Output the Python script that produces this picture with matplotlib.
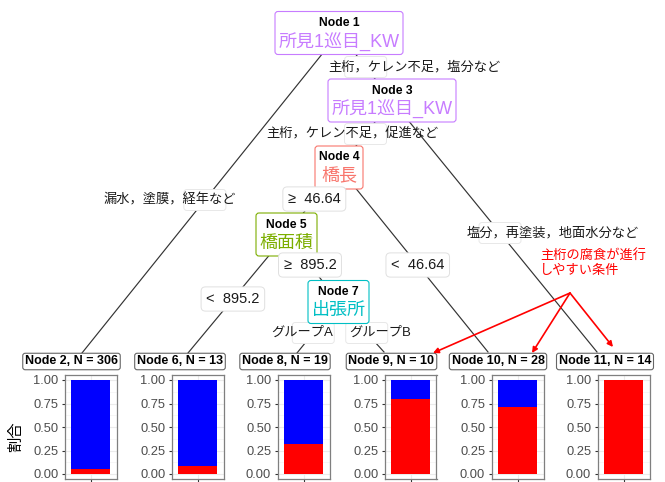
import matplotlib
matplotlib.use("Agg")
import matplotlib.pyplot as plt
from matplotlib.patches import FancyBboxPatch

plt.rcParams['font.family'] = ['Liberation Sans', 'Noto Sans CJK JP']

W, H = 665, 482

# inner nodes: id, variable, colour
inner_nodes = [1, 3, 4, 5, 7]
inner_vars = ['所見1巡目_KW', '所見1巡目_KW', '橋長', '橋面積', '出張所']
inner_colors = ['#C77CFF', '#C77CFF', '#F8766D', '#7CAE00', '#00BFC4']

# terminal nodes
term_nodes = [2, 6, 8, 9, 10, 11]
term_n = [306, 13, 19, 10, 28, 14]
share_red = [0.05, 0.08, 0.32, 0.80, 0.71, 1.00]
share_blue = [0.95, 0.92, 0.68, 0.20, 0.29, 0.00]

# edges: parent -> child with split label
edges = [(1, 2), (1, 3), (3, 4), (3, 11), (4, 5), (4, 10), (5, 6), (5, 7), (7, 8), (7, 9)]
edge_labels = ['漏水，塗膜，経年など', '主桁，ケレン不足，塩分など', '主桁，ケレン不足，促進など',
               '塩分，再塗装，地面水分など', '≥  46.64', '<  46.64', '<  895.2', '≥  895.2',
               'グループA', 'グループB']

note_text = '主桁の腐食が進行\nしやすい条件'
note_targets = [9, 10, 11]

# ---- layout (pixels, origin top-left) ----
node_xy = {1: (339, 33), 3: (392, 100.5), 4: (339, 167.5), 5: (286.5, 234.5), 7: (338.5, 302),
           2: (82, 353), 6: (188, 353), 8: (297, 353), 9: (384, 352), 10: (488, 352), 11: (597, 352)}
node_box_w = {1: 128, 3: 128, 4: 48, 5: 61, 7: 61}
node_box_h = 43

# where the edge label sits on the edge (y) and where its text is centred (x)
label_y = [200, 67, 134, 233, 199, 265, 299, 265, 333, 333]
label_text_x = [170, 414, 352, 553, None, None, None, None, 302, 380]

title_x = [71.5, 180, 285, 391.5, 498, 605]
bar_x = [90.5, 197.5, 303.5, 410.5, 517.5, 623.5]
panel_top, panel_bottom, panel_w = 375.3, 478.7, 52

note_xy = (540, 263)
note_start = (570, 293)
note_ends = {9: (433, 353), 10: (532, 353), 11: (613, 347)}

fig = plt.figure(figsize=(W / 100, H / 100), dpi=100)
ax = fig.add_axes([0, 0, 1, 1])
ax.set_xlim(0, W)
ax.set_ylim(H, 0)
ax.axis('off')

# edges
for (p, c) in edges:
    (x0, y0), (x1, y1) = node_xy[p], node_xy[c]
    ax.plot([x0, x1], [y0, y1], color='#333333', lw=0.85, zorder=1)

# edge labels
for (p, c), lab, ly, tx in zip(edges, edge_labels, label_y, label_text_x):
    (x0, y0), (x1, y1) = node_xy[p], node_xy[c]
    lx = x0 + (ly - y0) * (x1 - x0) / (y1 - y0)
    if tx is None:
        ax.text(lx, ly, lab, ha='center', va='center', fontsize=10.5, color='#1A1A1A', zorder=4,
                bbox=dict(boxstyle='round,pad=0.35,rounding_size=0.3', fc='white', ec='#E0E0E0', lw=0.7))
    else:
        ax.add_patch(FancyBboxPatch((lx - 21, ly - 10.5), 42, 21,
                                    boxstyle='round,pad=0,rounding_size=3',
                                    fc='white', ec='#E8E8E8', lw=0.7, zorder=2))
        ax.text(tx, ly, lab, ha='center', va='center', fontsize=9.5, color='#1A1A1A', zorder=4)

# inner node boxes
for nid, var, col in zip(inner_nodes, inner_vars, inner_colors):
    cx, cy = node_xy[nid]
    bw = node_box_w[nid]
    top = cy - node_box_h / 2
    ax.add_patch(FancyBboxPatch((cx - bw / 2, top), bw, node_box_h,
                                boxstyle='round,pad=0,rounding_size=3',
                                fc='white', ec=col, lw=0.8, zorder=3))
    ax.text(cx, top + 11.5, f'Node {nid}', ha='center', va='center', fontsize=8.7,
            fontweight='bold', color='black', zorder=4)
    ax.text(cx, top + 30, var, ha='center', va='center', fontsize=13, color=col, zorder=4)

# terminal titles
for nid, n, tx in zip(term_nodes, term_n, title_x):
    ax.text(tx, 361.5, f'Node {nid}, N = {n}', ha='center', va='center', fontsize=9,
            fontweight='bold', color='black', zorder=5,
            bbox=dict(boxstyle='round,pad=0.18,rounding_size=0.2', fc='white', ec='#666666', lw=0.8))

# red annotation
ax.text(note_xy[0], note_xy[1], note_text, ha='left', va='center', fontsize=9.5,
        color='#FF0000', linespacing=1.25, zorder=6)
for t in note_targets:
    ax.annotate('', xy=note_ends[t], xytext=note_start, zorder=6,
                arrowprops=dict(arrowstyle='-|>', color='#FF0000', lw=1.2,
                                mutation_scale=8, shrinkA=0, shrinkB=0))

# terminal bar panels
for i, (bx, r, b) in enumerate(zip(bar_x, share_red, share_blue)):
    left = bx - panel_w / 2
    pax = fig.add_axes([left / W, 1 - panel_bottom / H, panel_w / W,
                        (panel_bottom - panel_top) / H])
    pax.bar([0], [r], width=0.9, color='#FF0000', zorder=2)
    pax.bar([0], [b], bottom=[r], width=0.9, color='#0000FF', zorder=2)
    pax.set_xlim(-0.6, 0.6)
    pax.set_ylim(-0.05, 1.05)
    pax.set_yticks([0, 0.25, 0.5, 0.75, 1.0])
    pax.set_yticklabels(['0.00', '0.25', '0.50', '0.75', '1.00'])
    pax.set_yticks([0.125, 0.375, 0.625, 0.875], minor=True)
    pax.set_xticks([0])
    pax.set_xticklabels([''])
    pax.grid(True, which='major', color='#EBEBEB', lw=0.8, zorder=0)
    pax.grid(True, which='minor', axis='y', color='#F3F3F3', lw=0.5, zorder=0)
    pax.tick_params(axis='y', which='minor', length=0)
    pax.tick_params(axis='both', which='major', length=2.5, width=0.8, color='#333333',
                    labelsize=9.3, labelcolor='#4D4D4D', pad=2)
    for s in pax.spines.values():
        s.set_color('#7F7F7F')
        s.set_linewidth(0.9)
    pax.set_axisbelow(True)

ax.text(16, 437, '割合', rotation=90, ha='center', va='center', fontsize=11, color='black')

fig.savefig('out.png', dpi=100)
